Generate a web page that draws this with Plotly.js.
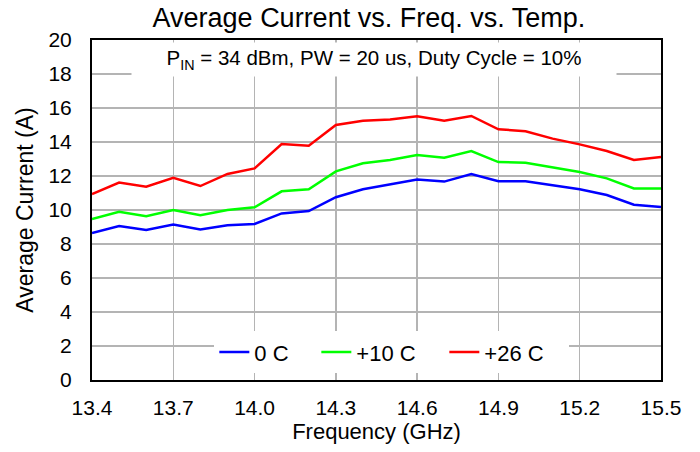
<!DOCTYPE html>
<html>
<head>
<meta charset="utf-8">
<script src="https://cdn.plot.ly/plotly-3.0.1.min.js"></script>
<style>html,body{margin:0;padding:0;background:#fff;}#chart{width:700px;height:452px;}</style>
</head>
<body>
<div id="chart"></div>
<script>
const freq = [13.4,13.5,13.6,13.7,13.8,13.9,14.0,14.1,14.2,14.3,14.4,14.5,14.6,14.7,14.8,14.9,15.0,15.1,15.2,15.3,15.4,15.5];
const cur0C = [8.65,9.06,8.82,9.14,8.86,9.10,9.18,9.80,9.94,10.75,11.22,11.51,11.80,11.67,12.12,11.69,11.69,11.45,11.22,10.88,10.31,10.18];
const cur10C = [9.47,9.90,9.63,10.00,9.69,10.00,10.16,11.10,11.22,12.27,12.75,12.94,13.24,13.08,13.47,12.82,12.78,12.51,12.24,11.86,11.27,11.27];
const cur26C = [10.94,11.61,11.37,11.90,11.41,12.12,12.45,13.88,13.78,15.00,15.25,15.33,15.51,15.25,15.53,14.75,14.63,14.20,13.86,13.47,12.94,13.12];
const seriesNames = ['0 C','+10 C','+26 C'];
const seriesColors = ['#0000ff','#00ff00','#ff0000'];
const legendWidths = [57, 83, 80];
const xTicks = [13.4,13.7,14.0,14.3,14.6,14.9,15.2,15.5];
const yTicks = [0,2,4,6,8,10,12,14,16,18,20];

const font = 'Arial, "Liberation Sans", sans-serif';
const data = [cur0C, cur10C, cur26C].map((ys, i) => ({
  x: freq, y: ys, type: 'scatter', mode: 'lines', name: seriesNames[i],
  line: {color: seriesColors[i], width: 2.5}, legendwidth: legendWidths[i]
}));

const layout = {
  width: 700, height: 452,
  margin: {l: 92, r: 39, t: 40, b: 72},
  paper_bgcolor: '#fff', plot_bgcolor: '#fff',
  font: {family: font, color: '#000', size: 21},
  title: {text: 'Average Current vs. Freq. vs. Temp.', font: {family: font, size: 27, color: '#000'},
          x: 0.527, xanchor: 'center', yref: 'container', y: 0.962, yanchor: 'middle'},
  xaxis: {
    range: [13.4, 15.5], tickvals: xTicks, tickformat: '.1f',
    showgrid: true, gridcolor: '#b4b4b4', gridwidth: 1.5,
    showline: true, linecolor: '#000', linewidth: 2, mirror: true,
    ticks: '', ticklabelstandoff: 8, zeroline: false,
    tickfont: {size: 21},
    title: {text: 'Frequency (GHz)', font: {size: 22}, standoff: 4}
  },
  yaxis: {
    range: [0, 20], tickvals: yTicks,
    showgrid: true, gridcolor: '#b4b4b4', gridwidth: 1.5,
    showline: true, linecolor: '#000', linewidth: 2, mirror: true,
    ticks: '', ticklabelstandoff: 14, zeroline: false,
    tickfont: {size: 21},
    title: {text: 'Average Current (A)', font: {size: 23}, standoff: 8}
  },
  showlegend: true,
  legend: {
    orientation: 'h', x: 0.215, xanchor: 'left', y: 0.02, yanchor: 'bottom',
    bgcolor: '#fff', font: {size: 22}, itemwidth: 30, tracegroupgap: 0
  },
  annotations: [{
    text: 'P<sub>IN</sub> = 34 dBm, PW = 20 us, Duty Cycle = 10%',
    xref: 'paper', yref: 'paper', x: 0.496, y: 0.995, xanchor: 'center', yanchor: 'top',
    width: 484, height: 33, align: 'center', valign: 'middle',
    showarrow: false, bgcolor: '#fff', font: {size: 20.5, family: font}, borderpad: 0
  }]
};
Plotly.newPlot('chart', data, layout, {displayModeBar: false, staticPlot: true});
</script>
</body>
</html>
